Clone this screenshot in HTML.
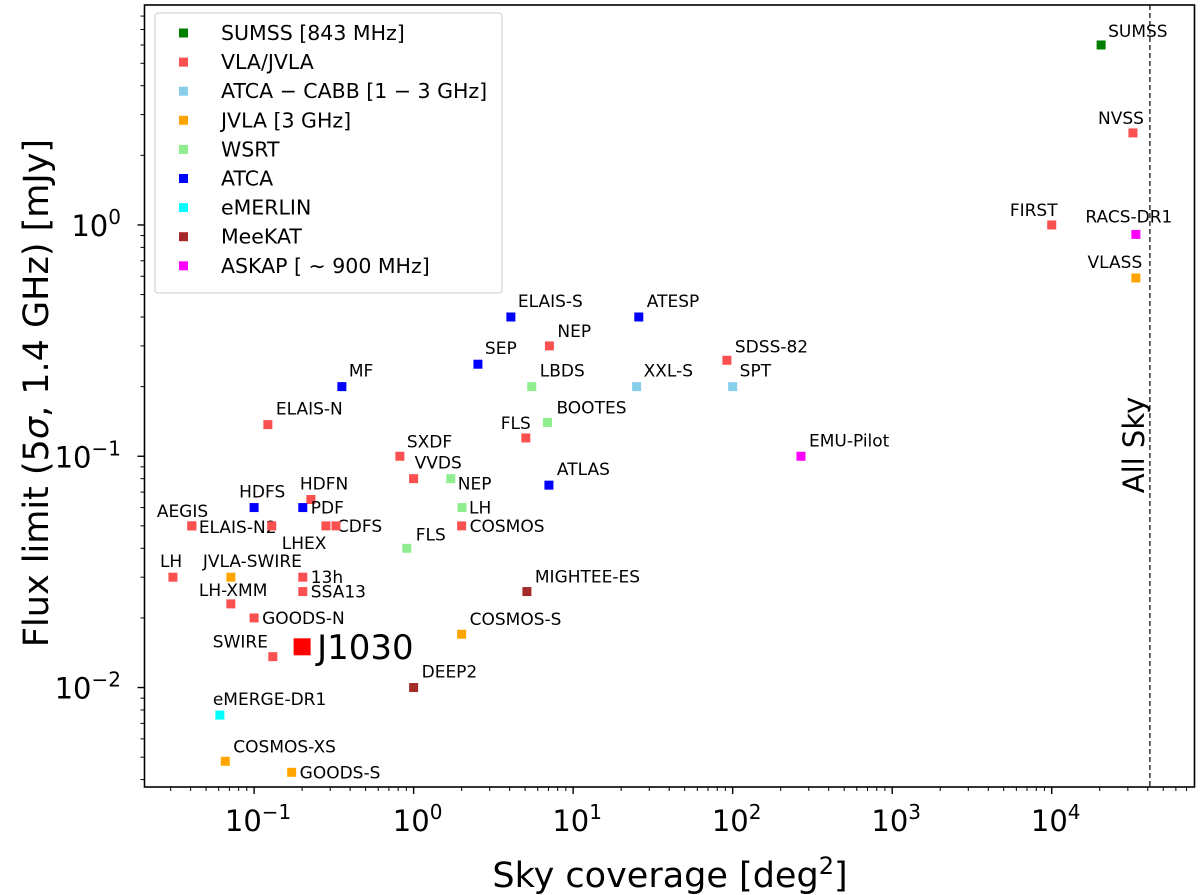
<!DOCTYPE html>
<html><head><meta charset="utf-8">
<style>
html,body{margin:0;padding:0;background:#fff;}
svg{display:block;font-family:"DejaVu Sans","Liberation Sans",sans-serif;}
</style></head>
<body>
<svg id="chart" width="1200" height="895" viewBox="0 0 1200 895" xmlns="http://www.w3.org/2000/svg">
<g id="grid"></g>
<g id="marks"></g>
<g id="axes"></g>
<g id="legend"></g>
</svg>
<script>
// ---- data ----
const names = ["SUMSS","NVSS","FIRST","RACS-DR1","VLASS","SDSS-82","SPT","XXL-S","ATESP","ELAIS-S","NEP","SEP","LBDS","MF","BOOTES","ELAIS-N","FLS","EMU-Pilot","SXDF","VVDS","NEP","ATLAS","HDFN","HDFS","PDF","LH","AEGIS","ELAIS-N2","LHEX","CDFS","","COSMOS","FLS","LH","JVLA-SWIRE","13h","SSA13","MIGHTEE-ES","LH-XMM","GOODS-N","COSMOS-S","J1030","SWIRE","DEEP2","eMERGE-DR1","COSMOS-XS","GOODS-S"];
const coverage = [20400,32300,10000,33700,33700,92,100,25,25.8,4.07,7.1,2.53,5.5,0.355,6.9,0.122,5.05,268,0.82,1.0,1.71,7.05,0.227,0.1,0.202,2.01,0.0407,0.0407,0.129,0.282,0.326,2.0,0.906,0.031,0.0715,0.202,0.202,5.13,0.0715,0.1,2.0,0.2,0.131,1.0,0.061,0.066,0.172];
const fluxLimit = [6.0,2.5,1.0,0.91,0.59,0.26,0.2,0.2,0.4,0.4,0.3,0.25,0.2,0.2,0.14,0.137,0.12,0.1,0.1,0.08,0.08,0.075,0.065,0.06,0.06,0.06,0.05,0.05,0.05,0.05,0.05,0.05,0.04,0.03,0.03,0.03,0.026,0.026,0.023,0.02,0.017,0.015,0.0136,0.01,0.0076,0.0048,0.0043];
const groupOf = ["sumss","vla","vla","askap","jvla3","vla","cabb","cabb","atca","atca","vla","atca","wsrt","atca","wsrt","vla","vla","askap","vla","vla","wsrt","atca","vla","atca","atca","wsrt","vla","vla","vla","vla","vla","vla","wsrt","vla","jvla3","vla","vla","meerkat","vla","vla","jvla3","j1030","vla","meerkat","emerlin","jvla3","jvla3"];
const groups = ["sumss","vla","cabb","jvla3","wsrt","atca","emerlin","meerkat","askap"];
const groupLabels = ["SUMSS [843 MHz]","VLA/JVLA","ATCA \u2212 CABB [1 \u2212 3 GHz]","JVLA [3 GHz]","WSRT","ATCA","eMERLIN","MeeKAT","ASKAP [ \u223c 900 MHz]"];
const xTickExps = [-1,0,1,2,3,4];
const yTickExps = [-2,-1,0];
const allSky = 41253;

// ---- styles (not data) ----
const groupColors = {sumss:"#007f00",vla:"#fa5050",cabb:"#87ceeb",jvla3:"#ffa500",wsrt:"#90ee90",atca:"#0000ff",emerlin:"#00ffff",meerkat:"#a52a2a",askap:"#ff00ff",j1030:"#ff0000"};
// label offsets [dx, dy, anchor]
const labelOffsets = [[7,-8,"start"],[-12,-9,"middle"],[-18,-9,"middle"],[-7,-12,"middle"],[-21,-10,"middle"],[8,-8,"start"],[7,-10,"start"],[7,-10,"start"],[8,-10,"start"],[7,-10,"start"],[8,-9,"start"],[7,-10,"start"],[8,-10,"start"],[7,-10,"start"],[9,-9,"start"],[8,-10,"start"],[-10,-9,"middle"],[8,-10,"start"],[7,-9,"start"],[1,-10,"start"],[7,11,"start"],[8,-10,"start"],[-11,-10,"start"],[-15,-10,"start"],[8,6,"start"],[7,6,"start"],[-35,-9,"start"],[7,7,"start"],[10,23,"start"],[11,6,"start"],[0,0,"start"],[8,6,"start"],[9,-8,"start"],[-13,-10,"start"],[-28,-10,"start"],[8,6,"start"],[8,6,"start"],[8,-9,"start"],[-32,-8,"start"],[8,6,"start"],[8,-9,"start"],[15,12,"start"],[-60,-9,"start"],[8,-10,"start"],[-7,-10,"start"],[8,-9,"start"],[8,6,"start"]];

const L=144.5,R=1194.5,T=5,B=787;
const xMinL=-1.687, xMaxL=4.895, yMinL=-2.43, yMaxL=0.951;
const xs=v=>L+(Math.log10(v)-xMinL)/(xMaxL-xMinL)*(R-L);
const ys=v=>B-(Math.log10(v)-yMinL)/(yMaxL-yMinL)*(B-T);
const NS="http://www.w3.org/2000/svg";
function mk(tag,attrs,parent){const e=document.createElementNS(NS,tag);for(const k in attrs)e.setAttribute(k,attrs[k]);parent.appendChild(e);return e;}

const marks=document.getElementById('marks');
const axes=document.getElementById('axes');
const grid=document.getElementById('grid');

// all-sky line
const asx=xs(allSky);
const asl=mk('line',{x1:asx,x2:asx,y1:T,y2:B,stroke:'#000','stroke-width':1.2,'stroke-dasharray':'5,3'},grid);


const ast=mk('text',{x:0,y:0,'font-size':29,fill:'#000','text-anchor':'middle',transform:`translate(${asx-6},445) rotate(-90)`},grid);
ast.textContent='All Sky';



// points
for(let i=0;i<names.length;i++){
  const cx=xs(coverage[i]), cy=ys(fluxLimit[i]);
  const big=groupOf[i]==='j1030';
  const s=big?17:9;
  const r=mk('rect',{x:cx-s/2,y:cy-s/2,width:s,height:s,fill:groupColors[groupOf[i]]},marks);
  
  
  if(names[i]){
    const o=labelOffsets[i];
    const t=mk('text',{x:cx+o[0],y:cy+o[1],'font-size':big?34:17,fill:'#000','text-anchor':o[2]},marks);
    t.textContent=names[i];
    
    
  }
}

// frame
const fr=mk('rect',{x:L,y:T,width:R-L,height:B-T,fill:'none',stroke:'#000','stroke-width':1.6},axes);



// x ticks
for(let e=-2;e<=5;e++){
  for(let m=1;m<10;m++){
    const v=m*Math.pow(10,e); const lv=Math.log10(v);
    if(lv<xMinL||lv>xMaxL)continue;
    const x=xs(v); const len=m===1?7:4;
    mk('line',{x1:x,x2:x,y1:B,y2:B+len,stroke:'#000','stroke-width':m===1?1.4:1},axes);
  }
}
xTickExps.forEach(e=>{
  const t=mk('text',{x:xs(Math.pow(10,e))+4,y:831,'font-size':29,'text-anchor':'middle',fill:'#000'},axes);
  t.innerHTML=`10<tspan dy="-12" font-size="20">${e<0?'\u2212'+(-e):e}</tspan>`;
  
  
});
// y ticks
for(let e=-3;e<=1;e++){
  for(let m=1;m<10;m++){
    const v=m*Math.pow(10,e); const lv=Math.log10(v);
    if(lv<yMinL||lv>yMaxL)continue;
    const y=ys(v); const len=m===1?7:4;
    mk('line',{x1:L-len,x2:L,y1:y,y2:y,stroke:'#000','stroke-width':m===1?1.4:1},axes);
  }
}
yTickExps.forEach(e=>{
  const t=mk('text',{x:121,y:ys(Math.pow(10,e))+11,'font-size':29,'text-anchor':'end',fill:'#000'},axes);
  t.innerHTML=`10<tspan dy="-12" font-size="20">${e<0?'\u2212'+(-e):e}</tspan>`;
  
  
});

// axis titles
const xt=mk('text',{x:670,y:887,'font-size':35,'text-anchor':'middle',fill:'#000'},axes);
xt.innerHTML='Sky coverage [deg<tspan dy="-13" font-size="24">2</tspan><tspan dy="13">]</tspan>';


const yt=mk('text',{x:0,y:0,'font-size':35,'text-anchor':'middle',fill:'#000',transform:'translate(48,393) rotate(-90)'},axes);
yt.innerHTML='Flux limit (5<tspan font-style="italic">σ</tspan>, 1.4 GHz) [mJy]';



// legend
const lg=document.getElementById('legend');


mk('rect',{x:155,y:13,width:347,height:280,rx:3,fill:'#fff','fill-opacity':0.8,stroke:'#ccc','stroke-width':1},lg);
groups.forEach((g,i)=>{
  const y=33+i*29.1;
  const r=mk('rect',{x:179,y:y-4.5,width:9,height:9,fill:groupColors[g]},lg);
  
  
  const t=mk('text',{x:221,y:y+7,'font-size':20.5,fill:'#000'},lg);
  t.textContent=groupLabels[i];
  
  
});
</script>
</body></html>
